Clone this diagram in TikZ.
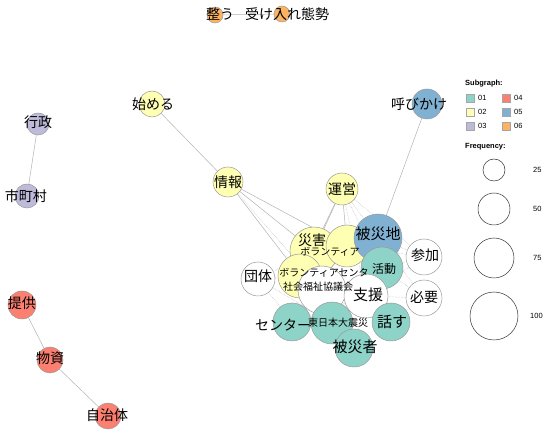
\documentclass[tikz,border=0pt]{standalone}
\usepackage{fontspec}
\newfontfamily\jp{Noto Sans CJK JP}
\setsansfont{Liberation Sans}
\usetikzlibrary{backgrounds}

\definecolor{sg01}{HTML}{8DD3C7}
\definecolor{sg02}{HTML}{FFFFB3}
\definecolor{sg03}{HTML}{BEBADA}
\definecolor{sg04}{HTML}{FB8072}
\definecolor{sg05}{HTML}{80B1D3}
\definecolor{sg06}{HTML}{FDB462}

\begin{document}
\begin{tikzpicture}[
    x=1pt, y=-1pt,
    bub/.style={circle, draw=gray!80, line width=0.5pt, inner sep=0pt},
    lab/.style={font=\jp\fontsize{14}{14}\selectfont, inner sep=0pt},
    slab/.style={font=\jp\fontsize{10}{10}\selectfont, inner sep=0pt},
    edge/.style={draw=gray!60, line width=0.5pt},
    dedge/.style={draw=gray!55, line width=0.5pt, densely dotted},
    key/.style={draw=gray!70, line width=0.4pt, minimum size=7.5pt, inner sep=0pt},
    keytext/.style={font=\sffamily\fontsize{7.5}{8}\selectfont, anchor=west, inner sep=0pt}
]
\useasboundingbox (0,0) rectangle (550,430);

% --------------------------------------------------------------------------
% Nodes (circles), then their labels
% --------------------------------------------------------------------------
\node[bub, fill=sg06, minimum size=16] (totonou) at (215,15) {};
\node[bub, fill=sg06, minimum size=16] (ukeire) at (282,14) {};
\node[bub, fill=sg02, minimum size=26] (hajimeru) at (152,104) {};
\node[bub, fill=sg02, minimum size=30] (jouhou) at (228,182) {};
\node[bub, fill=sg02, minimum size=32] (unei) at (342,189) {};
\node[bub, fill=sg05, minimum size=30] (yobikake) at (427,104) {};

\node[bub, fill=sg02, minimum size=48] (saigai) at (314,251) {};
\node[bub, fill=sg02, minimum size=42] (borantia) at (347,246) {};
\node[bub, fill=sg02, minimum size=44] (vcenter) at (300,276) {};
\node[bub, fill=white, minimum size=48] (shakyo) at (322,290) {};
\node[bub, fill=sg05, minimum size=48] (hisaichi) at (378,238) {};
\node[bub, fill=sg01, minimum size=42] (katsudou) at (382,268) {};
\node[bub, fill=white, minimum size=44] (shien) at (366,296) {};
\node[bub, fill=white, minimum size=34] (dantai) at (258,279) {};
\node[bub, fill=white, minimum size=36] (sanka) at (424,257) {};
\node[bub, fill=white, minimum size=36] (hitsuyou) at (424,298) {};
\node[bub, fill=sg01, minimum size=38] (center) at (292,322) {};
\node[bub, fill=sg01, minimum size=42] (higashi) at (332,323) {};
\node[bub, fill=sg01, minimum size=38] (hanasu) at (391,322) {};
\node[bub, fill=sg01, minimum size=38] (hisaisha) at (354,348) {};

\node[bub, fill=sg03, minimum size=22] (gyousei) at (38,124) {};
\node[bub, fill=sg03, minimum size=24] (shichouson) at (27,196) {};
\node[bub, fill=sg04, minimum size=28] (teikyou) at (22,305) {};
\node[bub, fill=sg04, minimum size=26] (busshi) at (50,360) {};
\node[bub, fill=sg04, minimum size=26] (jichitai) at (108,416) {};

\node[lab] at (220,14) {整う};
\node[lab] at (287,14) {受け入れ態勢};
\node[lab] at (153,104) {始める};
\node[lab] at (228,182) {情報};
\node[lab] at (342,189) {運営};
\node[lab] at (419,104) {呼びかけ};
\node[lab, font=\jp\fontsize{15}{15}\selectfont] at (378,234) {被災地};
\node[lab] at (312,240) {災害};
\node[slab] at (330,252) {ボランティア};
\node[slab] at (324,273) {ボランティアセンタ};
\node[slab] at (318,287) {社会福祉協議会};
\node[lab] at (258,276) {団体};
\node[lab] at (425,255) {参加};
\node[lab] at (424,297) {必要};
\node[lab, font=\jp\fontsize{12}{12}\selectfont] at (384,269) {活動};
\node[lab, font=\jp\fontsize{15}{15}\selectfont] at (368,295) {支援};
\node[lab, font=\jp\fontsize{15}{15}\selectfont] at (392,322) {話す};
\node[lab, font=\jp\fontsize{15}{15}\selectfont] at (355,347) {被災者};
\node[slab] at (338,323) {東日本大震災};
\node[lab] at (283,325) {センター};
\node[lab] at (38,122) {行政};
\node[lab] at (26,196) {市町村};
\node[lab] at (22,303) {提供};
\node[lab] at (50,358) {物資};
\node[lab] at (107,415) {自治体};

% --------------------------------------------------------------------------
% Edges
% --------------------------------------------------------------------------
\begin{scope}[on background layer]
    \draw[edge] (totonou) -- (ukeire);
    \draw[edge] (hajimeru) -- (jouhou);
    \draw[edge] (jouhou) -- (saigai);
    \draw[edge] (jouhou) -- (borantia);
    \draw[edge] (jouhou) -- (vcenter);
    \draw[dedge] (jouhou) -- (shakyo);
    \draw[edge] (unei) -- (saigai);
    \draw[edge] (unei) -- (borantia);
    \draw[edge] (unei) -- (vcenter);
    \draw[dedge] (unei) -- (hisaichi);
    \draw[dedge] (unei) -- (katsudou);
    \draw[dedge] (unei) -- (shien);
    \draw[dedge] (unei) -- (sanka);
    \draw[edge] (yobikake) -- (hisaichi);
    \draw[edge] (gyousei) -- (shichouson);
    \draw[edge] (teikyou) -- (busshi);
    \draw[edge] (busshi) -- (jichitai);
    \draw[dedge] (sanka) -- (hisaichi);
    \draw[dedge] (sanka) -- (katsudou);
    \draw[dedge] (sanka) -- (shien);
    \draw[dedge] (sanka) -- (borantia);
    \draw[dedge] (hitsuyou) -- (katsudou);
    \draw[dedge] (hitsuyou) -- (shien);
    \draw[dedge] (hitsuyou) -- (hanasu);
    \draw[dedge] (hitsuyou) -- (hisaichi);
    \draw[dedge] (dantai) -- (saigai);
    \draw[dedge] (dantai) -- (vcenter);
    \draw[dedge] (dantai) -- (center);
    \draw[dedge] (dantai) -- (higashi);
    \draw[dedge] (shien) -- (center);
    \draw[dedge] (shien) -- (hisaisha);
\end{scope}

% --------------------------------------------------------------------------
% Legend
% --------------------------------------------------------------------------
\node[keytext, font=\sffamily\bfseries\fontsize{7.5}{8}\selectfont] (subhead) at (465,84) {Subgraph:};
\node[key, fill=sg01] (k01) at (470,98) {};
\node[key, fill=sg02] (k02) at (470,112) {};
\node[key, fill=sg03] (k03) at (470,126) {};
\node[key, fill=sg04] (k04) at (506,98) {};
\node[key, fill=sg05] (k05) at (506,112) {};
\node[key, fill=sg06] (k06) at (506,126) {};
\node[keytext] at (478,98) {01};
\node[keytext] at (478,112) {02};
\node[keytext] at (478,126) {03};
\node[keytext] at (514,98) {04};
\node[keytext] at (514,112) {05};
\node[keytext] at (514,126) {06};

\node[keytext, font=\sffamily\bfseries\fontsize{7.5}{8}\selectfont] (freqhead) at (465,147) {Frequency:};
\node[bub, draw=black!80, minimum size=22] (f25) at (494,170) {};
\node[bub, draw=black!80, minimum size=32] (f50) at (494,209) {};
\node[bub, draw=black!80, minimum size=40] (f75) at (494,258) {};
\node[bub, draw=black!80, minimum size=48] (f100) at (494,316) {};
\node[keytext] at (533,170) {25};
\node[keytext] at (533,209) {50};
\node[keytext] at (533,258) {75};
\node[keytext] at (530,316) {100};

\end{tikzpicture}
\end{document}
